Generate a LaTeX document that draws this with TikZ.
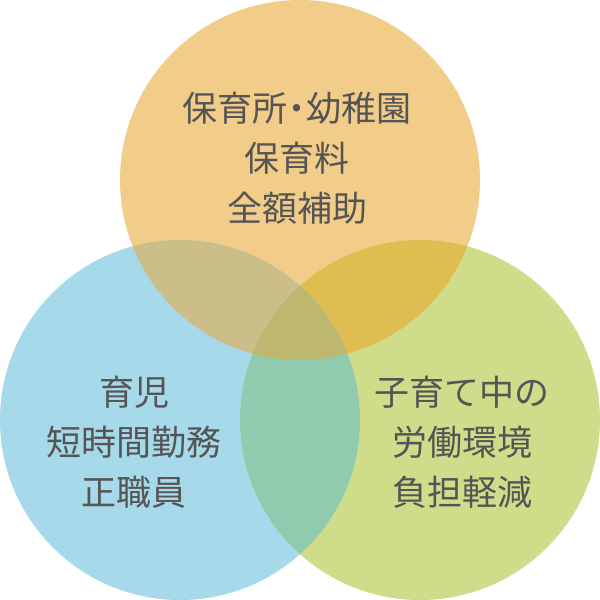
\documentclass[tikz,border=0pt]{standalone}
\usepackage{fontspec}
\newfontfamily\cjk{Noto Sans CJK JP}
\definecolor{toporange}{HTML}{F2CD8A}
\definecolor{leftblue}{HTML}{A6D9E9}
\definecolor{rightgreen}{HTML}{CFDC8A}
\definecolor{topleft}{HTML}{CBBE88}
\definecolor{topright}{HTML}{DEBE50}
\definecolor{leftright}{HTML}{90CBB0}
\definecolor{allthree}{HTML}{BEB770}
\definecolor{textgray}{HTML}{555555}

\begin{document}
\begin{tikzpicture}[
        x = 1pt,
        y = -1pt,
        label text/.style = {align=center, text=textgray, inner sep=0pt,
            font=\cjk\fontsize{35}{50}\selectfont}
    ]
        \useasboundingbox (0,0) rectangle (600,600);
        \def\topcircle{(300,180) circle (180pt)}
        \def\leftcircle{(180,420) circle (180pt)}
        \def\rightcircle{(420,420) circle (180pt)}
        \fill [toporange] \topcircle;
        \fill [leftblue] \leftcircle;
        \fill [rightgreen] \rightcircle;
        \begin{scope}
            \clip \topcircle;
            \fill [topleft] \leftcircle;
            \fill [topright] \rightcircle;
        \end{scope}
        \begin{scope}
            \clip \leftcircle;
            \fill [leftright] \rightcircle;
            \clip \rightcircle;
            \fill [allthree] \topcircle;
        \end{scope}
        \node [label text] (support) at (297,158) {保育所\hspace{-0.22em}・\hspace{-0.22em}幼稚園\\保育料\\全額補助};
        \node [label text] (shortwork) at (134,442) {育児\\短時間勤務\\正職員};
        \node [label text] (burden) at (462,442) {子育て中の\\労働環境\\負担軽減};
\end{tikzpicture}
\end{document}
